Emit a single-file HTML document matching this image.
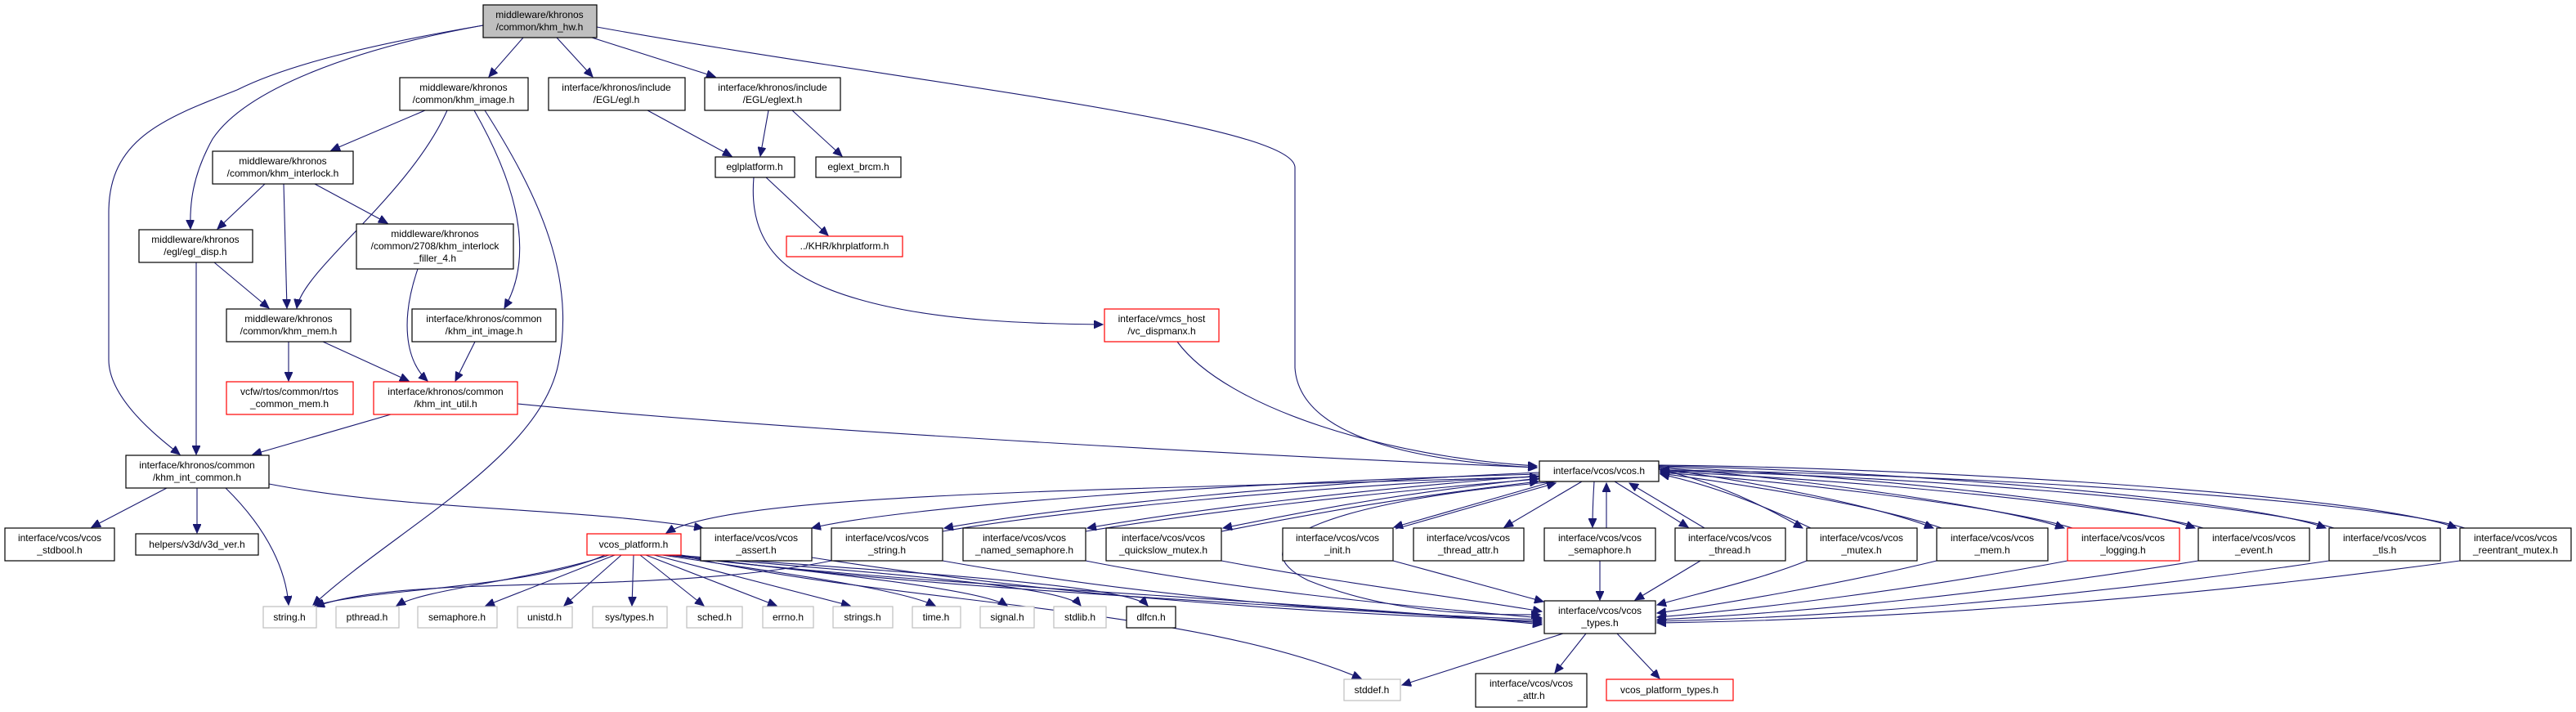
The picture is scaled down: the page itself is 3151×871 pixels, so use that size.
<!DOCTYPE html>
<html><head><meta charset="utf-8"><style>
html,body{margin:0;padding:0;background:#fff;}
svg{display:block;}
text{font-family:"Liberation Sans",sans-serif;font-size:12px;fill:#000;}
.e{fill:none;stroke:#191970;stroke-width:1.1;}
.b rect{fill:#fff;stroke:#000;stroke-width:1.2;}
.r rect{fill:#fff;stroke:#ff0000;stroke-width:1.2;}
.g rect{fill:#fff;stroke:#bfbfbf;stroke-width:1.2;}
</style></head><body>
<svg width="3151" height="871" viewBox="0 0 3151 871" xmlns="http://www.w3.org/2000/svg">
<defs><marker id="a" markerUnits="userSpaceOnUse" markerWidth="12" markerHeight="10" refX="11" refY="5" orient="auto"><path d="M0,0 L11,5 L0,10 z" fill="#191970" stroke="#191970"/></marker></defs>
<g class="e" marker-end="url(#a)">
<path d="M640,46 L598,94"/>
<path d="M681,46 L725,94"/>
<path d="M724,46 L875,94"/>
<path d="M730,33 C1100,100 1584,150 1584,205 L1584,450 C1590,540 1750,565 1880,572"/>
<path d="M591,31 C430,60 300,110 260,170 C235,215 232,250 233,280"/>
<path d="M591,31 C450,55 350,80 290,110 C200,145 133,170 133,260 L133,440 C133,490 200,540 220,556"/>
<path d="M520,135 L405,184"/>
<path d="M547,135 C500,240 370,330 363,377"/>
<path d="M580,135 C640,240 650,320 617,377"/>
<path d="M593,135 C660,240 705,340 683,445 C660,560 480,650 383,740"/>
<path d="M792,135 L895,191"/>
<path d="M940,135 L930,191"/>
<path d="M969,135 L1030,191"/>
<path d="M937,217 L1013,288"/>
<path d="M922,217 C915,300 960,340 1050,366 C1150,395 1280,396 1349,397"/>
<path d="M324,225 L266,280"/>
<path d="M347,225 L351,377"/>
<path d="M385,225 L474,273"/>
<path d="M262,321 L329,377"/>
<path d="M240,321 L240,556"/>
<path d="M511,329 C490,390 495,440 523,466"/>
<path d="M581,418 L557,466"/>
<path d="M353,418 L353,466"/>
<path d="M395,418 L500,466"/>
<path d="M478,507 L309,556"/>
<path d="M633,494 C1000,530 1600,560 1880,572"/>
<path d="M1440,418 C1500,500 1700,560 1880,570"/>
<path d="M204,597 L112,645"/>
<path d="M241,597 L241,652"/>
<path d="M276,597 C330,650 350,700 353,740"/>
<path d="M329,592 C500,625 700,620 860,646"/>
<!-- vcos.h outgoing -->
<path d="M1883,583 C1400,600 900,600 815,652"/>
<path d="M1883,580 C1500,590 1100,620 993,646"/>
<path d="M1883,578 C1600,590 1300,620 1155,646"/>
<path d="M1883,582 C1650,600 1450,625 1330,646"/>
<path d="M1883,585 C1700,605 1600,625 1496,646"/>
<path d="M1900,589 L1705,645"/>
<path d="M1935,589 L1840,645"/>
<path d="M1950,589 C1948,620 1948,630 1948,645"/>
<path d="M1975,589 L2065,645"/>
<path d="M2029,574 C2100,590 2160,620 2205,646"/>
<path d="M2029,573 C2150,590 2300,620 2365,646"/>
<path d="M2029,572 C2200,585 2450,620 2525,646"/>
<path d="M2029,571 C2250,580 2600,615 2685,646"/>
<path d="M2029,570 C2300,575 2750,610 2845,646"/>
<path d="M2029,569 C2350,572 2900,605 3005,646"/>
<path d="M1905,589 C1650,610 1500,660 1600,710 C1700,750 1800,752 1884,752"/>
<!-- back edges -->
<path d="M1153,650 C1300,625 1600,595 1882,583"/>
<path d="M1328,650 C1450,630 1650,605 1882,586"/>
<path d="M1494,650 C1600,630 1700,610 1882,589"/>
<path d="M1707,647 L1903,591"/>
<path d="M1965,646 C1965,620 1965,600 1965,591"/>
<path d="M2085,646 L1993,591"/>
<path d="M2215,646 C2160,620 2100,595 2031,580"/>
<path d="M2375,646 C2300,620 2150,595 2031,579"/>
<path d="M2535,646 C2450,620 2200,590 2031,578"/>
<path d="M2695,646 C2600,618 2250,585 2031,577"/>
<path d="M2855,646 C2750,614 2300,580 2031,576"/>
<path d="M3015,646 C2900,610 2350,578 2031,575"/>
<!-- to types -->
<path d="M993,682 C1300,730 1600,750 1886,760"/>
<path d="M1153,686 C1400,730 1650,750 1886,758"/>
<path d="M1328,686 C1500,720 1700,740 1886,756"/>
<path d="M1494,686 C1650,715 1780,730 1886,748"/>
<path d="M1704,686 L1888,736"/>
<path d="M1957,686 L1957,734"/>
<path d="M2080,686 L2000,734"/>
<path d="M2210,686 C2150,710 2080,725 2027,740"/>
<path d="M2369,686 C2250,715 2100,740 2027,750"/>
<path d="M2529,686 C2350,720 2150,745 2027,755"/>
<path d="M2689,686 C2450,725 2200,750 2027,758"/>
<path d="M2849,686 C2550,730 2250,755 2027,760"/>
<path d="M3009,686 C2650,735 2300,758 2027,762"/>
<!-- platform -->
<path d="M740,679 C650,720 450,720 385,741"/>
<path d="M1017,686 C800,730 500,700 386,742"/>
<path d="M745,679 C650,710 520,720 485,741"/>
<path d="M752,679 L594,741"/>
<path d="M760,679 L690,741"/>
<path d="M775,679 L773,741"/>
<path d="M783,679 L861,741"/>
<path d="M790,679 L950,741"/>
<path d="M800,679 L1040,741"/>
<path d="M810,679 C950,700 1100,720 1144,741"/>
<path d="M815,679 C1000,700 1200,720 1232,741"/>
<path d="M820,679 C1050,700 1300,715 1322,741"/>
<path d="M825,679 C1100,700 1380,715 1404,741"/>
<path d="M830,679 C1100,740 1450,740 1665,830"/>
<path d="M833,679 C1100,720 1600,740 1886,762"/>
<path d="M833,681 C1100,715 1600,735 1886,764"/>
<path d="M1912,775 L1715,838"/>
<path d="M1940,775 L1902,823"/>
<path d="M1978,775 L2030,830"/>
</g>
<!-- nodes -->
<g class="b">
<rect x="591" y="6" width="139" height="40" style="fill:#bfbfbf"/><text x="660" y="22" text-anchor="middle">middleware/khronos</text><text x="660" y="37" text-anchor="middle">/common/khm_hw.h</text>
<rect x="489" y="95" width="157" height="40"/><text x="567" y="111" text-anchor="middle">middleware/khronos</text><text x="567" y="126" text-anchor="middle">/common/khm_image.h</text>
<rect x="671" y="95" width="167" height="40"/><text x="754" y="111" text-anchor="middle">interface/khronos/include</text><text x="754" y="126" text-anchor="middle">/EGL/egl.h</text>
<rect x="862" y="95" width="166" height="40"/><text x="945" y="111" text-anchor="middle">interface/khronos/include</text><text x="945" y="126" text-anchor="middle">/EGL/eglext.h</text>
<rect x="260" y="185" width="172" height="40"/><text x="346" y="201" text-anchor="middle">middleware/khronos</text><text x="346" y="216" text-anchor="middle">/common/khm_interlock.h</text>
<rect x="875" y="192" width="97" height="25"/><text x="923" y="208" text-anchor="middle">eglplatform.h</text>
<rect x="998" y="192" width="104" height="25"/><text x="1050" y="208" text-anchor="middle">eglext_brcm.h</text>
<rect x="170" y="281" width="139" height="40"/><text x="239" y="297" text-anchor="middle">middleware/khronos</text><text x="239" y="312" text-anchor="middle">/egl/egl_disp.h</text>
<rect x="436" y="274" width="192" height="55"/><text x="532" y="290" text-anchor="middle">middleware/khronos</text><text x="532" y="305" text-anchor="middle">/common/2708/khm_interlock</text><text x="532" y="320" text-anchor="middle">_filler_4.h</text>
<rect x="277" y="378" width="152" height="40"/><text x="353" y="394" text-anchor="middle">middleware/khronos</text><text x="353" y="409" text-anchor="middle">/common/khm_mem.h</text>
<rect x="504" y="378" width="176" height="40"/><text x="592" y="394" text-anchor="middle">interface/khronos/common</text><text x="592" y="409" text-anchor="middle">/khm_int_image.h</text>
<rect x="154" y="557" width="175" height="40"/><text x="241" y="573" text-anchor="middle">interface/khronos/common</text><text x="241" y="588" text-anchor="middle">/khm_int_common.h</text>
<rect x="1883" y="564" width="146" height="25"/><text x="1956" y="580" text-anchor="middle">interface/vcos/vcos.h</text>
<rect x="6" y="646" width="134" height="40"/><text x="73" y="662" text-anchor="middle">interface/vcos/vcos</text><text x="73" y="677" text-anchor="middle">_stdbool.h</text>
<rect x="166" y="653" width="150" height="26"/><text x="241" y="670" text-anchor="middle">helpers/v3d/v3d_ver.h</text>
<rect x="857" y="646" width="136" height="40"/><text x="925" y="662" text-anchor="middle">interface/vcos/vcos</text><text x="925" y="677" text-anchor="middle">_assert.h</text>
<rect x="1017" y="646" width="136" height="40"/><text x="1085" y="662" text-anchor="middle">interface/vcos/vcos</text><text x="1085" y="677" text-anchor="middle">_string.h</text>
<rect x="1178" y="646" width="150" height="40"/><text x="1253" y="662" text-anchor="middle">interface/vcos/vcos</text><text x="1253" y="677" text-anchor="middle">_named_semaphore.h</text>
<rect x="1353" y="646" width="141" height="40"/><text x="1423" y="662" text-anchor="middle">interface/vcos/vcos</text><text x="1423" y="677" text-anchor="middle">_quickslow_mutex.h</text>
<rect x="1569" y="646" width="135" height="40"/><text x="1636" y="662" text-anchor="middle">interface/vcos/vcos</text><text x="1636" y="677" text-anchor="middle">_init.h</text>
<rect x="1729" y="646" width="135" height="40"/><text x="1796" y="662" text-anchor="middle">interface/vcos/vcos</text><text x="1796" y="677" text-anchor="middle">_thread_attr.h</text>
<rect x="1889" y="646" width="136" height="40"/><text x="1957" y="662" text-anchor="middle">interface/vcos/vcos</text><text x="1957" y="677" text-anchor="middle">_semaphore.h</text>
<rect x="2049" y="646" width="135" height="40"/><text x="2116" y="662" text-anchor="middle">interface/vcos/vcos</text><text x="2116" y="677" text-anchor="middle">_thread.h</text>
<rect x="2210" y="646" width="135" height="40"/><text x="2277" y="662" text-anchor="middle">interface/vcos/vcos</text><text x="2277" y="677" text-anchor="middle">_mutex.h</text>
<rect x="2369" y="646" width="136" height="40"/><text x="2437" y="662" text-anchor="middle">interface/vcos/vcos</text><text x="2437" y="677" text-anchor="middle">_mem.h</text>
<rect x="2689" y="646" width="136" height="40"/><text x="2757" y="662" text-anchor="middle">interface/vcos/vcos</text><text x="2757" y="677" text-anchor="middle">_event.h</text>
<rect x="2849" y="646" width="136" height="40"/><text x="2917" y="662" text-anchor="middle">interface/vcos/vcos</text><text x="2917" y="677" text-anchor="middle">_tls.h</text>
<rect x="3009" y="646" width="136" height="40"/><text x="3077" y="662" text-anchor="middle">interface/vcos/vcos</text><text x="3077" y="677" text-anchor="middle">_reentrant_mutex.h</text>
<rect x="1889" y="735" width="136" height="40"/><text x="1957" y="751" text-anchor="middle">interface/vcos/vcos</text><text x="1957" y="766" text-anchor="middle">_types.h</text>
<rect x="1805" y="824" width="136" height="41"/><text x="1873" y="840" text-anchor="middle">interface/vcos/vcos</text><text x="1873" y="855" text-anchor="middle">_attr.h</text>
<rect x="1378" y="742" width="60" height="26"/><text x="1408" y="759" text-anchor="middle">dlfcn.h</text>
</g>
<g class="r">
<rect x="962" y="289" width="142" height="25"/><text x="1033" y="305" text-anchor="middle">../KHR/khrplatform.h</text>
<rect x="1351" y="378" width="140" height="40"/><text x="1421" y="394" text-anchor="middle">interface/vmcs_host</text><text x="1421" y="409" text-anchor="middle">/vc_dispmanx.h</text>
<rect x="277" y="467" width="155" height="40"/><text x="354" y="483" text-anchor="middle">vcfw/rtos/common/rtos</text><text x="354" y="498" text-anchor="middle">_common_mem.h</text>
<rect x="457" y="467" width="176" height="40"/><text x="545" y="483" text-anchor="middle">interface/khronos/common</text><text x="545" y="498" text-anchor="middle">/khm_int_util.h</text>
<rect x="718" y="653" width="115" height="26"/><text x="775" y="670" text-anchor="middle">vcos_platform.h</text>
<rect x="2529" y="646" width="137" height="40"/><text x="2597" y="662" text-anchor="middle">interface/vcos/vcos</text><text x="2597" y="677" text-anchor="middle">_logging.h</text>
<rect x="1965" y="831" width="155" height="26"/><text x="2042" y="848" text-anchor="middle">vcos_platform_types.h</text>
</g>
<g class="g">
<rect x="322" y="742" width="65" height="26"/><text x="354" y="759" text-anchor="middle">string.h</text>
<rect x="411" y="742" width="77" height="26"/><text x="449" y="759" text-anchor="middle">pthread.h</text>
<rect x="511" y="742" width="97" height="26"/><text x="559" y="759" text-anchor="middle">semaphore.h</text>
<rect x="633" y="742" width="67" height="26"/><text x="666" y="759" text-anchor="middle">unistd.h</text>
<rect x="725" y="742" width="91" height="26"/><text x="770" y="759" text-anchor="middle">sys/types.h</text>
<rect x="840" y="742" width="68" height="26"/><text x="874" y="759" text-anchor="middle">sched.h</text>
<rect x="933" y="742" width="62" height="26"/><text x="964" y="759" text-anchor="middle">errno.h</text>
<rect x="1019" y="742" width="73" height="26"/><text x="1055" y="759" text-anchor="middle">strings.h</text>
<rect x="1116" y="742" width="59" height="26"/><text x="1145" y="759" text-anchor="middle">time.h</text>
<rect x="1199" y="742" width="66" height="26"/><text x="1232" y="759" text-anchor="middle">signal.h</text>
<rect x="1289" y="742" width="64" height="26"/><text x="1321" y="759" text-anchor="middle">stdlib.h</text>
<rect x="1644" y="831" width="69" height="26"/><text x="1678" y="848" text-anchor="middle">stddef.h</text>
</g>
</svg>
</body></html>
